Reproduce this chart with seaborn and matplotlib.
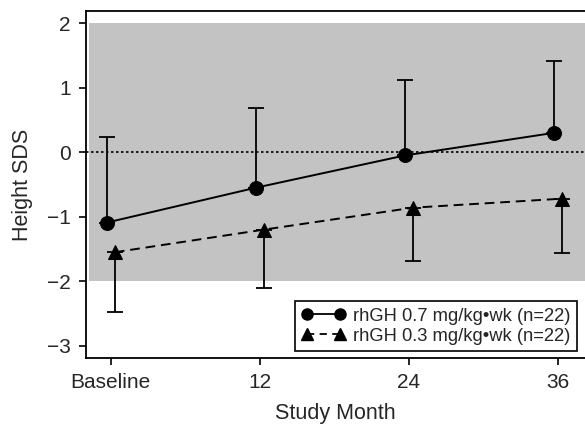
import pandas as pd
import matplotlib
matplotlib.use("Agg")
import matplotlib.pyplot as plt
import seaborn as sns

# data
months = [0, 12, 24, 36]
tick_labels = ["Baseline", "12", "24", "36"]
high_mean = [-1.09, -0.55, -0.05, 0.30]
high_upper = [0.23, 0.69, 1.12, 1.42]
low_mean = [-1.55, -1.20, -0.86, -0.72]
low_lower = [-2.48, -2.10, -1.68, -1.56]
y_ticks = [-3, -2, -1, 0, 1, 2]
label_high = "rhGH 0.7 mg/kg\u2022wk (n=22)"
label_low = "rhGH 0.3 mg/kg\u2022wk (n=22)"

sns.set_theme(style="ticks")
plt.rcParams["font.family"] = ["Liberation Sans", "DejaVu Sans"]

df = pd.DataFrame({
    "month": months * 2,
    "sds": high_mean + low_mean,
    "group": [label_high] * 4 + [label_low] * 4,
})
# small horizontal shift so the two groups do not overlap
shift = {label_high: -0.32, label_low: 0.32}
df["x"] = df["month"] + df["group"].map(shift)

fig = plt.figure(figsize=(5.85, 4.26), dpi=100)
ax = fig.add_axes([86 / 585, 68 / 426, 1 - 86 / 585, (358 - 11) / 426])

# normal range band
ax.fill_between([-1.75, 40], -2, 2, color="#c3c3c3", lw=0, zorder=0)
ax.axhline(0, color="black", lw=1.2, ls=(0, (1.5, 1.5)), zorder=1)

# one-sided error bars
hi = df[df["group"] == label_high]
lo = df[df["group"] == label_low]
ax.errorbar(hi["x"], hi["sds"],
            yerr=[[0] * 4, [u - m for u, m in zip(high_upper, high_mean)]],
            fmt="none", ecolor="black", elinewidth=1.3, capsize=6, capthick=1.3, zorder=2)
ax.errorbar(lo["x"], lo["sds"],
            yerr=[[m - l for m, l in zip(low_mean, low_lower)], [0] * 4],
            fmt="none", ecolor="black", elinewidth=1.3, capsize=6, capthick=1.3, zorder=2)

sns.lineplot(data=df, x="x", y="sds", hue="group", style="group",
             palette=["black", "black"], markers=["o", "^"],
             dashes=[(None, None), (5, 3)], markersize=10, linewidth=1.4,
             markeredgecolor="black", ax=ax, zorder=3, legend=False)

ax.set_xlim(-2.0, 38.2)
ax.set_ylim(-3.19, 2.19)
ax.set_xticks(months)
ax.set_xticklabels(tick_labels)
ax.set_yticks(y_ticks)
ax.set_yticklabels([str(t).replace("-", "\u2212") for t in y_ticks])
ax.tick_params(axis="both", labelsize=15, length=5, width=1.2, color="black", pad=6)
ax.set_xlabel("Study Month", fontsize=15.5, labelpad=8)
ax.set_ylabel("Height SDS", fontsize=15.5, labelpad=10)

for side in ["left", "top", "bottom"]:
    ax.spines[side].set_color("black")
    ax.spines[side].set_linewidth(1.3)
ax.spines["right"].set_visible(False)

h1 = plt.Line2D([], [], color="black", marker="o", markersize=8, lw=1.3)
h2 = plt.Line2D([], [], color="black", marker="^", markersize=8, lw=1.3, ls=(0, (4, 3)))
leg = ax.legend([h1, h2], [label_high, label_low], loc="lower right",
                bbox_to_anchor=(1 - 8 / 499, 7 / 347), borderaxespad=0,
                numpoints=2, handlelength=2.4, handletextpad=0.4,
                labelspacing=0.15, borderpad=0.35, fontsize=13.2,
                fancybox=False, framealpha=1, edgecolor="black")
leg.get_frame().set_linewidth(1.2)

fig.savefig("out.png", dpi=100)
